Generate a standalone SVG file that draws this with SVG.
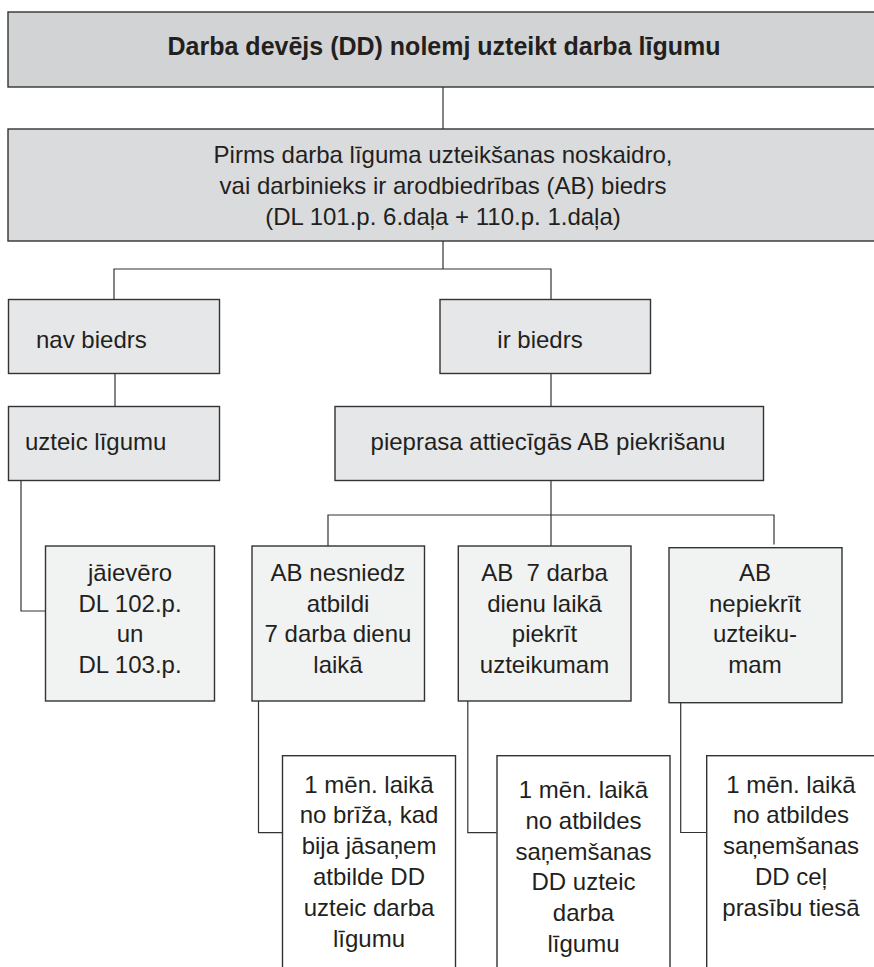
<svg xmlns="http://www.w3.org/2000/svg" width="874" height="967" viewBox="0 0 874 967">
<style>
.box{stroke:#333;stroke-width:1.4}
.g1{fill:#d1d3d4}
.g2{fill:#dadbdc}
.g3{fill:#e6e7e8}
.g4{fill:#f1f2f2}
.w{fill:#fff}
.conn{fill:none;stroke:#333;stroke-width:1.2}
text{font-family:"Liberation Sans",Arial,sans-serif;font-size:24px;fill:#231f20}
.t{font-weight:bold;font-size:25px}
.c{text-anchor:middle}
.pre{white-space:pre}
</style>
<rect width="874" height="967" fill="#fff"/>
<g id="connectors">
<path class="conn" d="M443,87V129"/>
<path class="conn" d="M443,241V269M114,299V269H551V299"/>
<path class="conn" d="M115,373.5V406.5"/>
<path class="conn" d="M551,373.5V406.5"/>
<path class="conn" d="M21,480.5V611H45.5"/>
<path class="conn" d="M551,480.5V546M328,546V515H774V544.5"/>
<path class="conn" d="M258.5,701V832.7H286.5"/>
<path class="conn" d="M467.8,701V832.7H496.6"/>
<path class="conn" d="M680.7,702.7V832.5H708.6"/>
</g>
<g id="n-top">
<rect class="box g1" x="8" y="12" width="880" height="75"/>
<text class="t c" x="444" y="55">Darba devējs (DD) nolemj uzteikt darba līgumu</text>
</g>
<g id="n-pirms">
<rect class="box g2" x="8" y="129" width="880" height="112"/>
<text class="c" x="443" y="163">Pirms darba līguma uzteikšanas noskaidro,</text>
<text class="c" x="443" y="194">vai darbinieks ir arodbiedrības (AB) biedrs</text>
<text class="c" x="443" y="225">(DL 101.p. 6.daļa + 110.p. 1.daļa)</text>
</g>
<g id="n-nav">
<rect class="box g3" x="8.5" y="299.5" width="211" height="74"/>
<text x="36" y="348">nav biedrs</text>
</g>
<g id="n-ir">
<rect class="box g3" x="440" y="299.5" width="210.5" height="74"/>
<text class="c" x="540" y="348">ir biedrs</text>
</g>
<g id="n-uzteic">
<rect class="box g3" x="8.5" y="406.5" width="211" height="74"/>
<text x="25" y="450">uzteic līgumu</text>
</g>
<g id="n-pieprasa">
<rect class="box g3" x="335" y="406.5" width="428.5" height="74"/>
<text class="c" x="548" y="450">pieprasa attiecīgās AB piekrišanu</text>
</g>
<g id="n-jaievero">
<rect class="box g4" x="45.5" y="546" width="169" height="155"/>
<text class="c" x="130" y="581">jāievēro</text>
<text class="c" x="130" y="611.5">DL 102.p.</text>
<text class="c" x="130" y="642">un</text>
<text class="c" x="130" y="672.5">DL 103.p.</text>
</g>
<g id="n-nesniedz">
<rect class="box g4" x="252" y="546" width="172.5" height="155"/>
<text class="c" x="338" y="581">AB nesniedz</text>
<text class="c" x="338" y="611.5">atbildi</text>
<text class="c" x="338" y="642">7 darba dienu</text>
<text class="c" x="338" y="672.5">laikā</text>
</g>
<g id="n-piekrit">
<rect class="box g4" x="458.3" y="546" width="172.7" height="155"/>
<text class="c pre" x="544.5" y="581">AB  7 darba</text>
<text class="c" x="544.5" y="611.5">dienu laikā</text>
<text class="c" x="544.5" y="642">piekrīt</text>
<text class="c" x="544.5" y="672.5">uzteikumam</text>
</g>
<g id="n-nepiekrit">
<rect class="box g4" x="669" y="547.7" width="173" height="155"/>
<text class="c" x="755" y="581">AB</text>
<text class="c" x="755" y="611.5">nepiekrīt</text>
<text class="c" x="755" y="642">uzteiku-</text>
<text class="c" x="755" y="672.5">mam</text>
</g>
<g id="n-b1">
<rect class="box w" x="282.5" y="755.7" width="173" height="240"/>
<text class="c" x="369" y="792.5">1 mēn. laikā</text>
<text class="c" x="369" y="823.3">no brīža, kad</text>
<text class="c" x="369" y="854.1">bija jāsaņem</text>
<text class="c" x="369" y="884.9">atbilde DD</text>
<text class="c" x="369" y="915.7">uzteic darba</text>
<text class="c" x="369" y="946.5">līgumu</text>
</g>
<g id="n-b2">
<rect class="box w" x="497" y="755.7" width="173" height="240"/>
<text class="c" x="583.5" y="798">1 mēn. laikā</text>
<text class="c" x="583.5" y="828.8">no atbildes</text>
<text class="c" x="583.5" y="859.6">saņemšanas</text>
<text class="c" x="583.5" y="890.4">DD uzteic</text>
<text class="c" x="583.5" y="921.2">darba</text>
<text class="c" x="583.5" y="952">līgumu</text>
</g>
<g id="n-b3">
<rect class="box w" x="706.7" y="755.7" width="200" height="240"/>
<text class="c" x="791" y="792.5">1 mēn. laikā</text>
<text class="c" x="791" y="823.3">no atbildes</text>
<text class="c" x="791" y="854.1">saņemšanas</text>
<text class="c" x="791" y="884.9">DD ceļ</text>
<text class="c" x="791" y="915.7">prasību tiesā</text>
</g>
</svg>
